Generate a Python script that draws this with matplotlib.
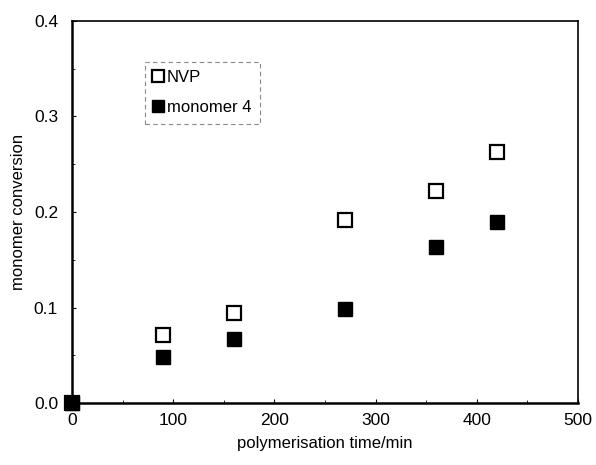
import matplotlib
matplotlib.use("Agg")
import matplotlib.pyplot as plt
from matplotlib.ticker import MultipleLocator

plt.rcParams['font.family'] = ['Liberation Sans', 'DejaVu Sans']

time_min = [0, 90, 160, 270, 360, 420]
nvp = [0.0, 0.071, 0.094, 0.192, 0.222, 0.263]
monomer4 = [0.0, 0.048, 0.067, 0.098, 0.163, 0.190]

fig = plt.figure(figsize=(5.96, 4.65), dpi=100)
ax = fig.add_axes([72/596, 1-403/465, (578-72)/596, (403-21)/465])

ax.plot(time_min, nvp, linestyle='none', marker='s', markersize=10,
        markerfacecolor='white', markeredgecolor='black', markeredgewidth=1.6,
        label='NVP', clip_on=False, zorder=3)
ax.plot(time_min, monomer4, linestyle='none', marker='s', markersize=10.5,
        markerfacecolor='black', markeredgecolor='black',
        label='monomer 4', clip_on=False, zorder=4)

ax.set_xlim(0, 500)
ax.set_ylim(0, 0.4)
ax.xaxis.set_major_locator(MultipleLocator(100))
ax.xaxis.set_minor_locator(MultipleLocator(50))
ax.yaxis.set_major_locator(MultipleLocator(0.1))
ax.yaxis.set_minor_locator(MultipleLocator(0.05))
ax.yaxis.set_major_formatter(matplotlib.ticker.FormatStrFormatter('%.1f'))
ax.tick_params(which='both', direction='in', labelsize=12.5, top=False, right=False)
ax.tick_params(which='major', length=3, width=0.8)
ax.tick_params(axis='x', which='major', pad=7)
ax.tick_params(axis='y', which='major', pad=10)
ax.tick_params(which='minor', length=2, width=0.6)
for s in ax.spines.values():
    s.set_linewidth(1.2)
ax.spines['left'].set_linewidth(1.8)
ax.spines['bottom'].set_linewidth(1.8)

ax.set_xlabel('polymerisation time/min', fontsize=12, labelpad=6)
ax.set_ylabel('monomer conversion', fontsize=12, labelpad=6)

leg = ax.legend(loc='upper left', bbox_to_anchor=((145-72)/506, (403-62)/382),
                borderaxespad=0, fontsize=12, markerscale=0.8, handlelength=0.6,
                handletextpad=0.2, labelspacing=0.9, borderpad=0.5,
                fancybox=False, framealpha=1)
fr = leg.get_frame()
fr.set_edgecolor('#888888')
fr.set_linestyle((0, (4, 3)))
fr.set_linewidth(0.8)

fig.savefig('out.png', dpi=100)
